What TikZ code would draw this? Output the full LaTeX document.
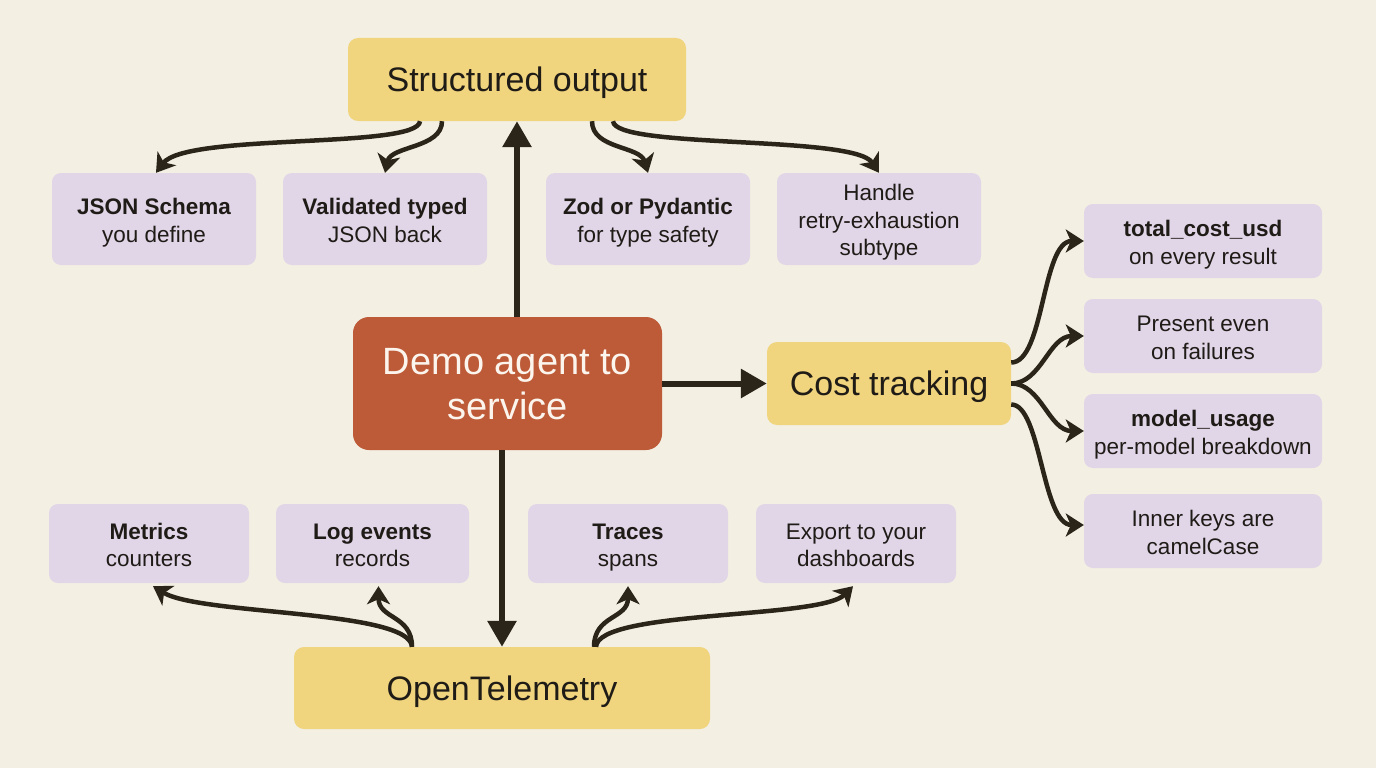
\documentclass[tikz,border=0pt]{standalone}
\usepackage{fontspec}
\setmainfont{Liberation Sans}
\usetikzlibrary{arrows.meta}
\definecolor{bg}{HTML}{F3EFE3}
\definecolor{yel}{HTML}{F0D47E}
\definecolor{lav}{HTML}{E1D5E8}
\definecolor{rust}{HTML}{BD5A37}
\definecolor{ink}{HTML}{1F1B16}
\definecolor{arr}{HTML}{2A2419}
\definecolor{wtext}{HTML}{FBF5EE}
\newcommand\myPH{\rule{0pt}{24.5pt}}
\newcommand\myPD{\rule[-6pt]{0pt}{6pt}}
\newcommand\myRH{\rule{0pt}{30pt}}
\newcommand\myRD{\rule[-4pt]{0pt}{4pt}}
\begin{document}
\begin{tikzpicture}[x=1pt,y=-1pt,
  base/.style={inner sep=0pt, align=center, text=ink},
  ybox/.style={base, fill=yel, rounded corners=10pt, font=\fontsize{34}{40}\selectfont,
    text height=24.4pt, text depth=0pt},
  pbox/.style={base, fill=lav, rounded corners=9pt, font=\fontsize{22.5}{27.5}\selectfont},
  rbox/.style={base, fill=rust, rounded corners=16pt, text=wtext, font=\fontsize{38}{45}\selectfont},
  conn/.style={draw=arr, line width=4.5pt, -{Stealth[length=18pt,width=23pt,inset=5pt]}},
  mainarr/.style={draw=arr, line width=6pt, -{Triangle[length=26pt,width=28pt]}}
]
\fill[bg] (0,0) rectangle (1376,768);
\useasboundingbox (0,0) rectangle (1376,768);

% nodes
\node[ybox, minimum width=338pt, minimum height=83pt] (so) at (517,79.5) {Structured output};
\node[pbox, minimum width=204pt, minimum height=92pt] (json) at (154,219) {\myPH\textbf{JSON Schema}\\you define\myPD};
\node[pbox, minimum width=204pt, minimum height=92pt] (val) at (385,219) {\myPH\textbf{Validated typed}\\JSON back\myPD};
\node[pbox, minimum width=204pt, minimum height=92pt] (zod) at (648,219) {\myPH\textbf{Zod or Pydantic}\\for type safety\myPD};
\node[pbox, minimum width=204pt, minimum height=92pt] (handle) at (879,219) {\myPH Handle\\retry-exhaustion\\subtype\myPD};

\node[rbox, minimum width=309pt, minimum height=133pt] (demo) at (507.5,383.5) {\myRH Demo agent to\\service\myRD};
\node[ybox, minimum width=244pt, minimum height=83pt] (cost) at (889,383.5) {Cost tracking};

\node[pbox, minimum width=238pt, minimum height=74pt] (total) at (1203,241) {\myPH\textbf{total\_cost\_usd}\\on every result\myPD};
\node[pbox, minimum width=238pt, minimum height=74pt] (present) at (1203,336) {\myPH Present even\\on failures\myPD};
\node[pbox, minimum width=238pt, minimum height=74pt] (model) at (1203,431) {\myPH\textbf{model\_usage}\\per-model breakdown\myPD};
\node[pbox, minimum width=238pt, minimum height=74pt] (inner) at (1203,531) {\myPH Inner keys are\\camelCase\myPD};

\node[pbox, minimum width=200pt, minimum height=79pt] (metrics) at (149,543.5) {\myPH\textbf{Metrics}\\counters\myPD};
\node[pbox, minimum width=193pt, minimum height=79pt] (log) at (372.5,543.5) {\myPH\textbf{Log events}\\records\myPD};
\node[pbox, minimum width=200pt, minimum height=79pt] (traces) at (628,543.5) {\myPH\textbf{Traces}\\spans\myPD};
\node[pbox, minimum width=200pt, minimum height=79pt] (export) at (856,543.5) {\myPH Export to your\\dashboards\myPD};

\node[ybox, minimum width=416pt, minimum height=82pt] (otel) at (502,688) {OpenTelemetry};

% main arrows
\draw[mainarr] (so.south |- demo.north) -- (so.south);
\draw[mainarr] (otel.north |- demo.south) -- (otel.north);
\draw[mainarr] (demo.east) -- (cost.west);

% structured output branches
\draw[conn] ([xshift=-97pt]so.south) .. controls +(-2,28) and +(30,-40) .. ([xshift=2pt]json.north);
\draw[conn] ([xshift=-75pt]so.south) .. controls +(0,27) and +(6,-27) .. (val.north);
\draw[conn] ([xshift=75pt]so.south) .. controls +(0,28) and +(-8,-27) .. (zod.north);
\draw[conn] ([xshift=96pt]so.south) .. controls +(2,28) and +(-25,-38) .. (handle.north);

% cost tracking branches
\draw[conn] ([yshift=21pt]cost.east) .. controls +(33,0) and +(-42,0) .. (total.west);
\draw[conn] (cost.east) .. controls +(30,0) and +(-35,0) .. (present.west);
\draw[conn] (cost.east) .. controls +(30,0) and +(-35,0) .. (model.west);
\draw[conn] ([yshift=-21pt]cost.east) .. controls +(30,0) and +(-42,0) .. ([yshift=6pt]inner.west);

% opentelemetry branches
\draw[conn] ([xshift=-90pt]otel.north) .. controls +(-2,-37) and +(47,29) .. ([xshift=4pt,yshift=-3pt]metrics.south);
\draw[conn] ([xshift=-90pt]otel.north) .. controls +(0,-32) and +(0,33) .. ([xshift=6pt,yshift=-3pt]log.south);
\draw[conn] ([xshift=92pt]otel.north) .. controls +(0,-32) and +(0,33) .. ([yshift=-3pt]traces.south);
\draw[conn] ([xshift=94pt]otel.north) .. controls +(2,-37) and +(-33,33) .. ([xshift=-3pt,yshift=-3pt]export.south);
\end{tikzpicture}
\end{document}
